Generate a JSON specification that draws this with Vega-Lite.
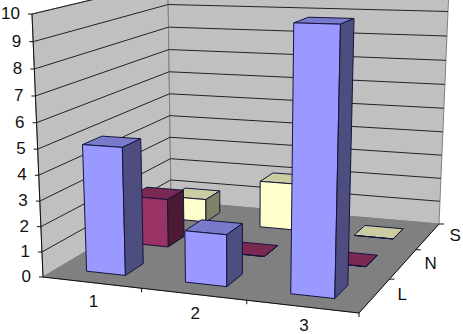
{
"$schema":"https://vega.github.io/schema/vega-lite/v6.json",
"width":463,"height":334,"padding":0,
"autosize":{"type":"fit","contains":"padding"},
"background":"white",
"view":{"stroke":null},
"resolve":{"scale":{"fill":"independent"}},
"datasets":{
"bars":[
{"cat":1,"series":"S","value":1},{"cat":2,"series":"S","value":2},{"cat":3,"series":"S","value":0},
{"cat":1,"series":"N","value":2},{"cat":2,"series":"N","value":0},{"cat":3,"series":"N","value":0},
{"cat":1,"series":"L","value":5},{"cat":2,"series":"L","value":2},{"cat":3,"series":"L","value":9.8}],
"planes":[{"plane":"left"},{"plane":"back"},{"plane":"floor"}],
"levels":[{"level":0},{"level":1},{"level":2},{"level":3},{"level":4},{"level":5},{"level":6},{"level":7},{"level":8},{"level":9},{"level":10}],
"cats":[{"cat":1},{"cat":2},{"cat":3}],
"series":[{"series":"L","idx":0},{"series":"N","idx":1},{"series":"S","idx":2}]
},
"layer":[
{"data":{"name":"planes"},
"transform":[
{"calculate":"[0,1,2,3,4]","as":"i"},{"flatten":["i"]},
{"calculate":"({floor:[0,3,3,0],left:[0,0,0,0],back:[0,3,3,0]})[datum.plane][datum.i%4]","as":"u"},
{"calculate":"({floor:[0,0,3,3],left:[0,3,3,0],back:[3,3,3,3]})[datum.plane][datum.i%4]","as":"v"},
{"calculate":"({floor:[0,0,0,0],left:[0,0,10,10],back:[0,0,10,10]})[datum.plane][datum.i%4]","as":"z"},
{"calculate":"1-0.03088*datum.u+0.06892*datum.v-0.00532*datum.z","as":"w"},
{"calculate":"(94.25*datum.u+54.45*datum.v-1.27*datum.z+43)/datum.w","as":"px"},
{"calculate":"(2.333*datum.u-11.48*datum.v-26.37*datum.z+277)/datum.w","as":"py"}],
"mark":{"type":"line","filled":true,"stroke":"#808080","strokeWidth":1,"interpolate":"linear","clip":true},
"encoding":{
"x":{"field":"px","type":"quantitative","scale":{"domain":[0,463],"range":[0,463]},"axis":null},
"y":{"field":"py","type":"quantitative","scale":{"domain":[0,334],"range":[0,334]},"axis":null},
"order":{"field":"i","type":"quantitative"},
"fill":{"field":"plane","type":"nominal","scale":{"domain":["left","back","floor"],"range":["#c0c0c0","#c0c0c0","#808080"]},"legend":null}}},
{"data":{"name":"levels"},
"transform":[
{"filter":"datum.level>0"},
{"calculate":"[0,1,2]","as":"i"},{"flatten":["i"]},
{"calculate":"[0,0,3][datum.i]","as":"u"},
{"calculate":"[0,3,3][datum.i]","as":"v"},
{"calculate":"datum.level","as":"z"},
{"calculate":"1-0.03088*datum.u+0.06892*datum.v-0.00532*datum.z","as":"w"},
{"calculate":"(94.25*datum.u+54.45*datum.v-1.27*datum.z+43)/datum.w","as":"px"},
{"calculate":"(2.333*datum.u-11.48*datum.v-26.37*datum.z+277)/datum.w","as":"py"}],
"mark":{"type":"line","stroke":"#222222","strokeWidth":1,"clip":true},
"encoding":{
"x":{"field":"px","type":"quantitative","scale":{"domain":[0,463],"range":[0,463]},"axis":null},
"y":{"field":"py","type":"quantitative","scale":{"domain":[0,334],"range":[0,334]},"axis":null},
"order":{"field":"i","type":"quantitative"},
"detail":{"field":"level","type":"nominal"}}},
{"data":{"name":"planes"},
"transform":[
{"filter":"datum.plane!='back'"},
{"calculate":"[0,1,2]","as":"i"},{"flatten":["i"]},
{"calculate":"datum.plane=='left'?0:[0,3,3][datum.i]","as":"u"},
{"calculate":"datum.plane=='left'?0:[0,0,3][datum.i]","as":"v"},
{"calculate":"datum.plane=='left'?[0,10,10][datum.i]:0","as":"z"},
{"calculate":"1-0.03088*datum.u+0.06892*datum.v-0.00532*datum.z","as":"w"},
{"calculate":"(94.25*datum.u+54.45*datum.v-1.27*datum.z+43)/datum.w","as":"px"},
{"calculate":"(2.333*datum.u-11.48*datum.v-26.37*datum.z+277)/datum.w","as":"py"}],
"mark":{"type":"line","stroke":"#111111","strokeWidth":1},
"encoding":{
"x":{"field":"px","type":"quantitative","scale":{"domain":[0,463],"range":[0,463]},"axis":null},
"y":{"field":"py","type":"quantitative","scale":{"domain":[0,334],"range":[0,334]},"axis":null},
"order":{"field":"i","type":"quantitative"},
"detail":{"field":"plane","type":"nominal"}}},
{"data":{"name":"levels"},
"transform":[
{"calculate":"1-0.00532*datum.level","as":"w"},
{"calculate":"(-1.27*datum.level+43)/datum.w","as":"px"},
{"calculate":"(-26.37*datum.level+277)/datum.w","as":"py"},
{"calculate":"datum.px-4","as":"px2"}],
"mark":{"type":"rule","stroke":"#111111","strokeWidth":1},
"encoding":{
"x":{"field":"px","type":"quantitative","scale":{"domain":[0,463],"range":[0,463]},"axis":null},
"x2":{"field":"px2"},
"y":{"field":"py","type":"quantitative","scale":{"domain":[0,334],"range":[0,334]},"axis":null}}},
{"data":{"name":"levels"},
"transform":[
{"calculate":"1-0.00532*datum.level","as":"w"},
{"calculate":"(-1.27*datum.level+43)/datum.w-12","as":"px"},
{"calculate":"(-26.37*datum.level+277)/datum.w","as":"py"}],
"mark":{"type":"text","align":"right","baseline":"middle","font":"Liberation Sans","fontSize":17,"fill":"#111111"},
"encoding":{
"x":{"field":"px","type":"quantitative","scale":{"domain":[0,463],"range":[0,463]},"axis":null},
"y":{"field":"py","type":"quantitative","scale":{"domain":[0,334],"range":[0,334]},"axis":null},
"text":{"field":"level","type":"quantitative"}}},
{"data":{"name":"cats"},
"transform":[
{"calculate":"1-0.03088*datum.cat","as":"w"},
{"calculate":"(94.25*datum.cat+43)/datum.w","as":"px"},
{"calculate":"(2.333*datum.cat+277)/datum.w","as":"py"},
{"calculate":"datum.py+4","as":"py2"}],
"mark":{"type":"rule","stroke":"#111111","strokeWidth":1},
"encoding":{
"x":{"field":"px","type":"quantitative","scale":{"domain":[0,463],"range":[0,463]},"axis":null},
"y":{"field":"py","type":"quantitative","scale":{"domain":[0,334],"range":[0,334]},"axis":null},
"y2":{"field":"py2"}}},
{"data":{"name":"series"},
"transform":[
{"calculate":"datum.idx+1","as":"v"},
{"calculate":"1-0.09264+0.06892*datum.v","as":"w"},
{"calculate":"(282.74+54.45*datum.v+43)/datum.w","as":"px"},
{"calculate":"(7-11.48*datum.v+277)/datum.w","as":"py"},
{"calculate":"datum.px+5","as":"px2"}],
"mark":{"type":"rule","stroke":"#111111","strokeWidth":1},
"encoding":{
"x":{"field":"px","type":"quantitative","scale":{"domain":[0,463],"range":[0,463]},"axis":null},
"x2":{"field":"px2"},
"y":{"field":"py","type":"quantitative","scale":{"domain":[0,334],"range":[0,334]},"axis":null}}},
{"data":{"name":"cats"},
"transform":[
{"calculate":"datum.cat-0.5","as":"u"},
{"calculate":"1-0.03088*datum.u","as":"w"},
{"calculate":"(94.25*datum.u+43)/datum.w+2","as":"px"},
{"calculate":"(2.333*datum.u+277)/datum.w+19.5","as":"py"}],
"mark":{"type":"text","align":"center","baseline":"middle","font":"Liberation Sans","fontSize":17,"fill":"#111111"},
"encoding":{
"x":{"field":"px","type":"quantitative","scale":{"domain":[0,463],"range":[0,463]},"axis":null},
"y":{"field":"py","type":"quantitative","scale":{"domain":[0,334],"range":[0,334]},"axis":null},
"text":{"field":"cat","type":"nominal"}}},
{"data":{"name":"series"},
"transform":[
{"calculate":"datum.idx+0.5","as":"v"},
{"calculate":"1-0.09264+0.06892*datum.v","as":"w"},
{"calculate":"(282.74+54.45*datum.v+43)/datum.w+27.5","as":"px"},
{"calculate":"(7-11.48*datum.v+277)/datum.w","as":"py"}],
"mark":{"type":"text","align":"center","baseline":"middle","font":"Liberation Sans","fontSize":17,"fill":"#111111"},
"encoding":{
"x":{"field":"px","type":"quantitative","scale":{"domain":[0,463],"range":[0,463]},"axis":null},
"y":{"field":"py","type":"quantitative","scale":{"domain":[0,334],"range":[0,334]},"axis":null},
"text":{"field":"series","type":"nominal"}}},
{"data":{"name":"bars"},
"transform":[
{"calculate":"['top','front','side']","as":"face"},{"flatten":["face"]},
{"calculate":"[0,1,2,3,4]","as":"i"},{"flatten":["i"]},
{"calculate":"indexof('LNS',datum.series)","as":"idx"},
{"calculate":"datum.series+'-'+datum.face","as":"shade"},
{"calculate":"datum.series+datum.cat+datum.face","as":"key"},
{"calculate":"datum.cat-1+0.3+0.4*({front:[0,1,1,0],side:[1,1,1,1],top:[0,1,1,0]})[datum.face][datum.i%4]","as":"u"},
{"calculate":"datum.idx+0.3+0.4*({front:[0,0,0,0],side:[0,1,1,0],top:[0,0,1,1]})[datum.face][datum.i%4]","as":"v"},
{"calculate":"datum.value*({front:[0,0,1,1],side:[0,0,1,1],top:[1,1,1,1]})[datum.face][datum.i%4]","as":"z"},
{"calculate":"1-0.03088*datum.u+0.06892*datum.v-0.00532*datum.z","as":"w"},
{"calculate":"(94.25*datum.u+54.45*datum.v-1.27*datum.z+43)/datum.w","as":"px"},
{"calculate":"(2.333*datum.u-11.48*datum.v-26.37*datum.z+277)/datum.w","as":"py"}],
"mark":{"type":"line","filled":true,"stroke":"#14143c","strokeWidth":1,"strokeJoin":"round"},
"encoding":{
"x":{"field":"px","type":"quantitative","scale":{"domain":[0,463],"range":[0,463]},"axis":null},
"y":{"field":"py","type":"quantitative","scale":{"domain":[0,334],"range":[0,334]},"axis":null},
"order":{"field":"i","type":"quantitative"},
"detail":{"field":"key","type":"nominal"},
"fill":{"field":"shade","type":"nominal","legend":null,"scale":{
"domain":["L-front","L-top","L-side","N-front","N-top","N-side","S-front","S-top","S-side"],
"range":["#9999ff","#7a7acc","#4d4d80","#993366","#7a2952","#4d1a33","#ffffcc","#cccca3","#808066"]}}}}
]
}
